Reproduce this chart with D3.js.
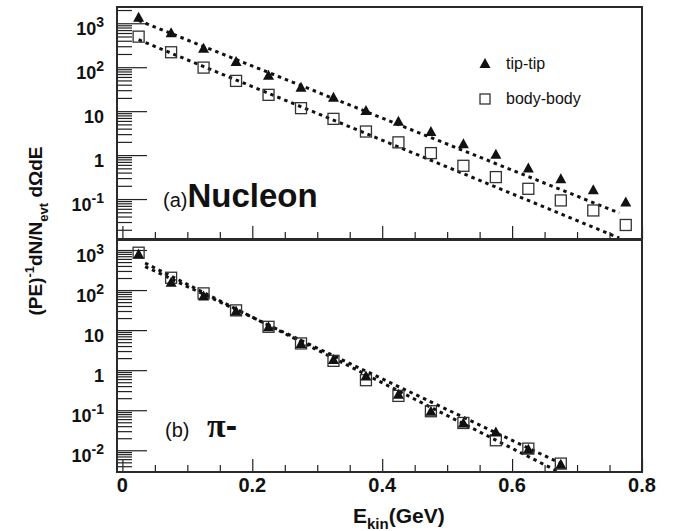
<!DOCTYPE html>
<html>
<head>
<meta charset="utf-8">
<script src="https://cdn.jsdelivr.net/npm/d3@7"></script>
<style>
    body { margin: 0; background: #fff; }
    text { font-family: "Liberation Sans", Arial, Helvetica, sans-serif; fill: #111; }
</style>
</head>
<body>
<div id="canvas"></div>
<script>
// kinetic energy bins (GeV)
const energyNucleon = [0.025, 0.075, 0.125, 0.175, 0.225, 0.275, 0.325, 0.375, 0.425, 0.475, 0.525, 0.575, 0.625, 0.675, 0.725, 0.775];
const nucleonTip = [1370, 611, 270, 134, 65.8, 35.1, 20.8, 10.3, 5.87, 3.44, 1.81, 1.05, 0.507, 0.289, 0.163, 0.0855];
const nucleonBody = [496, 219, 98, 48.8, 23.5, 11.7, 6.68, 3.44, 1.95, 1.11, 0.571, 0.316, 0.171, 0.093, 0.055, 0.0257];

const energyPion = [0.025, 0.075, 0.125, 0.175, 0.225, 0.275, 0.325, 0.375, 0.425, 0.475, 0.525, 0.575, 0.625, 0.675];
const pionTip = [794, 156, 70.8, 29.9, 12.1, 4.65, 1.85, 0.72, 0.251, 0.0944, 0.0481, 0.0287, 0.0106, 0.00447];
const pionBody = [857, 203, 82.7, 31.1, 12.1, 4.65, 1.71, 0.562, 0.228, 0.0944, 0.0481, 0.0178, 0.011, 0.00465];

// exponential fits (end points)
const fitNucleonX = [0.025, 0.765];
const fitNucleonTip = [1158, 0.048];
const fitNucleonBody = [422, 0.013];
const fitPionTipX = [0.035, 0.681];
const fitPionTip = [387, 0.00422];
const fitPionBodyX = [0.035, 0.673];
const fitPionBody = [473, 0.00282];

const xMajorTicks = [0, 0.2, 0.4, 0.6, 0.8];
const xMinorTicks = [0.05, 0.1, 0.15, 0.25, 0.3, 0.35, 0.45, 0.5, 0.55, 0.65, 0.7, 0.75];
const xTickLabels = ["0", "0.2", "0.4", "0.6", "0.8"];
const nucleonYTicks = [0.1, 1, 10, 100, 1000];
const pionYTicks = [0.01, 0.1, 1, 10, 100, 1000];

const left = 117, right = 642;

const svg = d3.select('#canvas').append('svg')
    .attr('width', 684)
    .attr('height', 531);

const x = d3.scaleLinear().domain([-0.0083, 0.8]).range([left, right]);

const panels = [
    {
        top: 7, bottom: 239,
        y: d3.scaleLog().domain([0.01233, 2344]).range([239, 7]),
        ticks: nucleonYTicks,
        energy: energyNucleon, tip: nucleonTip, body: nucleonBody,
        fits: [[fitNucleonX, fitNucleonTip], [fitNucleonX, fitNucleonBody]]
    },
    {
        top: 240, bottom: 472,
        y: d3.scaleLog().domain([0.002868, 1778]).range([472, 240]),
        ticks: pionYTicks,
        energy: energyPion, tip: pionTip, body: pionBody,
        fits: [[fitPionTipX, fitPionTip], [fitPionBodyX, fitPionBody]]
    }
];

function minorLogTicks(scale) {
    let d = scale.domain();
    let out = [];
    for (let e = Math.floor(Math.log10(d[0])); e <= Math.ceil(Math.log10(d[1])); e++) {
        for (let k = 2; k <= 9; k++) {
            let v = k * Math.pow(10, e);
            if (v > d[0] && v < d[1]) out.push(v);
        }
    }
    return out;
}

function tickLabel(sel, v) {
    let e = Math.round(Math.log10(v));
    if (e == 0) { sel.text("1"); return; }
    if (e == 1) { sel.text("10"); return; }
    sel.append('tspan').text("10");
    sel.append('tspan').attr('dy', -8).attr('font-size', 14).text(e);
}

const triangle = "M0,-5.5L5.5,4.5L-5.5,4.5Z";

panels.forEach(function (p, i) {
    const g = svg.append('g');
    const clipId = 'clip' + i;
    svg.append('clipPath').attr('id', clipId)
        .append('rect')
        .attr('x', left).attr('y', p.top)
        .attr('width', right - left).attr('height', p.bottom - p.top);

    // y ticks (inward)
    g.append('g').attr('transform', 'translate(' + left + ',0)')
        .call(d3.axisLeft(p.y).tickValues(p.ticks).tickSize(-30).tickFormat(''))
        .call(s => s.select('.domain').remove());
    g.append('g').attr('transform', 'translate(' + left + ',0)')
        .call(d3.axisLeft(p.y).tickValues(minorLogTicks(p.y)).tickSize(-15).tickFormat(''))
        .call(s => s.select('.domain').remove());

    // x ticks (inward)
    g.append('g').attr('transform', 'translate(0,' + p.bottom + ')')
        .call(d3.axisBottom(x).tickValues(xMajorTicks).tickSize(-13).tickFormat(''))
        .call(s => s.select('.domain').remove());
    g.append('g').attr('transform', 'translate(0,' + p.bottom + ')')
        .call(d3.axisBottom(x).tickValues(xMinorTicks).tickSize(-7).tickFormat(''))
        .call(s => s.select('.domain').remove());

    g.selectAll('.tick line').attr('stroke', '#222').attr('stroke-width', 1.2);

    // y labels
    g.append('g').selectAll('text')
        .data(p.ticks)
        .enter()
        .append('text')
        .attr('x', 104)
        .attr('y', d => p.y(d) + 12)
        .attr('text-anchor', 'end')
        .attr('font-size', 18)
        .attr('font-weight', 'bold')
        .each(function (d) { tickLabel(d3.select(this), d); });

    // fit lines
    const line = d3.line().x(d => x(d[0])).y(d => p.y(d[1]));
    g.append('g').attr('clip-path', 'url(#' + clipId + ')')
        .selectAll('path')
        .data(p.fits.map(f => f[0].map((v, j) => [v, f[1][j]])))
        .enter()
        .append('path')
        .attr('d', line)
        .attr('fill', 'none')
        .attr('stroke', '#111')
        .attr('stroke-width', 3)
        .attr('stroke-dasharray', '3.5,4');

    // body-body squares
    g.append('g').selectAll('rect')
        .data(p.energy.map((e, j) => [e, p.body[j]]))
        .enter()
        .append('rect')
        .attr('x', d => x(d[0]) - 5.5)
        .attr('y', d => p.y(d[1]) - 5.5)
        .attr('width', 11)
        .attr('height', 11)
        .attr('fill', 'none')
        .attr('stroke', '#333')
        .attr('stroke-width', 1.3);

    // tip-tip triangles
    g.append('g').selectAll('path')
        .data(p.energy.map((e, j) => [e, p.tip[j]]))
        .enter()
        .append('path')
        .attr('d', triangle)
        .attr('transform', d => 'translate(' + x(d[0]) + ',' + p.y(d[1]) + ')')
        .attr('fill', '#111');

    // frame
    g.append('rect')
        .attr('x', left).attr('y', p.top)
        .attr('width', right - left).attr('height', p.bottom - p.top)
        .attr('fill', 'none')
        .attr('stroke', '#2a2a2a')
        .attr('stroke-width', 2);
});

// x tick labels
svg.append('g').selectAll('text')
    .data(xMajorTicks)
    .enter()
    .append('text')
    .attr('x', d => x(d))
    .attr('y', 492)
    .attr('text-anchor', 'middle')
    .attr('font-size', 20)
    .attr('font-weight', 'bold')
    .text((d, i) => xTickLabels[i]);

// axis titles
const xTitle = svg.append('text')
    .attr('x', 353).attr('y', 523)
    .attr('font-size', 21)
    .attr('font-weight', 'bold');
xTitle.append('tspan').text('E');
xTitle.append('tspan').attr('dy', 6).attr('font-size', 15).text('kin');
xTitle.append('tspan').attr('dy', -6).text('(GeV)');

const yTitle = svg.append('text')
    .attr('transform', 'translate(42,231) rotate(-90)')
    .attr('text-anchor', 'middle')
    .attr('font-size', 19)
    .attr('font-weight', 'bold');
yTitle.append('tspan').text('(PE)');
yTitle.append('tspan').attr('dy', -8).attr('font-size', 13).text('-1');
yTitle.append('tspan').attr('dy', 8).text('dN/N');
yTitle.append('tspan').attr('dy', 6).attr('font-size', 13).text('evt');
yTitle.append('tspan').attr('dy', -6).text(' d\u03A9dE');

// panel labels
const labelA = svg.append('text').attr('x', 163).attr('y', 207);
labelA.append('tspan').attr('font-size', 20).text('(a)');
labelA.append('tspan').attr('font-size', 33).attr('font-weight', 'bold').text('Nucleon');

svg.append('text').attr('x', 165).attr('y', 437)
    .attr('font-size', 20).text('(b)');
const labelB = svg.append('text').attr('x', 207).attr('y', 437)
    .attr('font-size', 34).attr('font-weight', 'bold');
labelB.append('tspan').attr('font-family', '"Liberation Serif", "Times New Roman", serif').text('\u03C0');
labelB.append('tspan').text('-');

// legend
const legend = svg.append('g');
legend.append('path').attr('d', triangle)
    .attr('transform', 'translate(485,63.5)')
    .attr('fill', '#111');
legend.append('text').attr('x', 506).attr('y', 68.5)
    .attr('font-size', 16).text('tip-tip');
legend.append('rect')
    .attr('x', 480).attr('y', 94).attr('width', 10).attr('height', 10)
    .attr('fill', 'none').attr('stroke', '#333').attr('stroke-width', 1.3);
legend.append('text').attr('x', 506).attr('y', 104)
    .attr('font-size', 16).text('body-body');
</script>
</body>
</html>
